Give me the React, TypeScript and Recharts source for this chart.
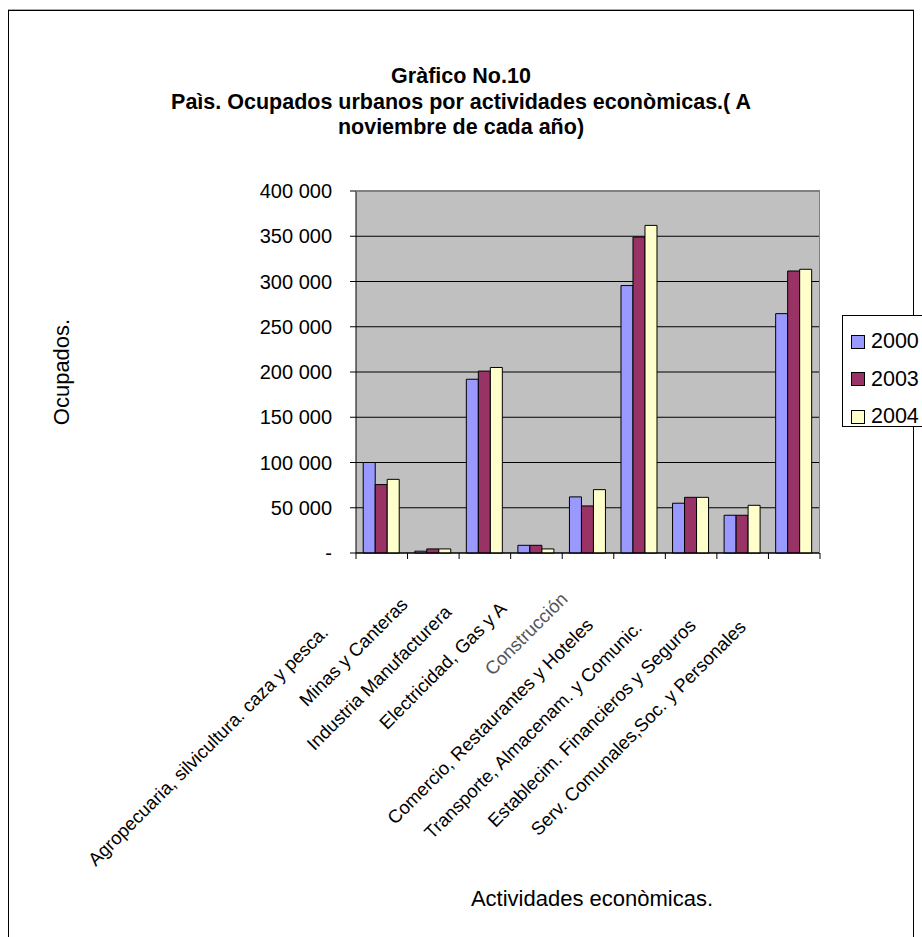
import React from "react";
import { BarChart, Bar, XAxis, YAxis, CartesianGrid, Legend } from "recharts";

const categories = [
  "Agropecuaria, silvicultura. caza y pesca.",
  "Minas y Canteras",
  "Industria Manufacturera",
  "Electricidad, Gas y A",
  "Construcción",
  "Comercio, Restaurantes y Hoteles",
  "Transporte, Almacenam. y Comunic.",
  "Establecim. Financieros y Seguros",
  "Serv. Comunales,Soc. y Personales",
];

const ocupados2000 = [100000, 2000, 192000, 8500, 62000, 295500, 55000, 41700, 264500];
const ocupados2003 = [75600, 4500, 201000, 8500, 52000, 349000, 61500, 41700, 311600];
const ocupados2004 = [81400, 4500, 205000, 4500, 70000, 362000, 61500, 52700, 313500];

const yTicks = [0, 50000, 100000, 150000, 200000, 250000, 300000, 350000, 400000];

const years = ["2000", "2003", "2004"];
const colors = ["#9999FF", "#993366", "#FFFFCC"];

const FONT = "'Liberation Sans', Arial, sans-serif";

const data = categories.map((name, i) => ({
  name,
  y2000: ocupados2000[i],
  y2003: ocupados2003[i],
  y2004: ocupados2004[i],
}));

const fmt = (v: number) =>
  v === 0 ? "-" : String(v).replace(/\B(?=(\d{3})+(?!\d))/g, " ");

let ctx: CanvasRenderingContext2D | null = null;
function measure(text: string, size: number) {
  if (!ctx) ctx = document.createElement("canvas").getContext("2d");
  if (!ctx) return text.length * size * 0.5;
  ctx.font = `${size}px 'Liberation Sans', Arial`;
  return ctx.measureText(text).width;
}

function CategoryTick(props: any) {
  const { x, y, payload, index } = props;
  const half = payload.offset > 0 ? payload.offset : 464 / 9 / 2;
  const size = 18.5;
  const len = measure(payload.value, size);
  const tx = x - 3 - 0.15 * len;
  const ty = y + 31 + 0.15 * len;
  const odd = payload.value === "Construcción";
  return (
    <g>
      <line x1={x - half} y1={y} x2={x - half} y2={y + 6} stroke="#000" />
      {index === categories.length - 1 && (
        <line x1={x + half} y1={y} x2={x + half} y2={y + 6} stroke="#000" />
      )}
      <text
        transform={`translate(${tx},${ty}) rotate(-45)`}
        textAnchor="end"
        fontSize={size}
        fontFamily={FONT}
        fill={odd ? "#555" : "#000"}
      >
        {payload.value}
      </text>
    </g>
  );
}

function LegendBox(props: any) {
  const { payload } = props;
  return (
    <div
      style={{
        border: "1px solid #000",
        background: "#fff",
        width: 100,
        height: 112,
        boxSizing: "border-box",
        paddingTop: 7,
        fontFamily: FONT,
        fontSize: 21.5,
      }}
    >
      {(payload || []).map((p: any) => (
        <div key={p.value} style={{ display: "flex", alignItems: "center", height: 37.5 }}>
          <span
            style={{
              display: "inline-block",
              width: 12,
              height: 12,
              marginLeft: 8,
              marginRight: 6,
              border: "1px solid #000",
              background: p.color,
            }}
          />
          <span>{p.value}</span>
        </div>
      ))}
    </div>
  );
}

export default function App() {
  return (
    <div
      style={{
        position: "fixed",
        left: 0,
        top: 0,
        width: 922,
        height: 937,
        background: "#fff",
        overflow: "hidden",
        fontFamily: FONT,
      }}
    >
      <div
        style={{
          position: "absolute",
          left: 8,
          top: 10,
          width: 904,
          height: 1000,
          border: "1px solid #000",
          boxShadow: "0 -1px 0 #aaa",
        }}
      />
      <div
        style={{
          position: "absolute",
          left: 0,
          top: 64,
          width: 922,
          textAlign: "center",
          fontWeight: "bold",
          fontSize: 21.5,
          lineHeight: "25.5px",
        }}
      >
        <div>Gràfico No.10</div>
        <div>Paìs. Ocupados urbanos por actividades econòmicas.( A</div>
        <div>noviembre de cada año)</div>
      </div>
      <div
        style={{
          position: "absolute",
          left: 62,
          top: 372,
          fontSize: 22,
          whiteSpace: "nowrap",
          transform: "translate(-50%, -50%) rotate(-90deg)",
        }}
      >
        Ocupados.
      </div>
      <div
        style={{
          position: "absolute",
          left: 592,
          top: 899,
          fontSize: 22,
          whiteSpace: "nowrap",
          transform: "translate(-50%, -50%)",
        }}
      >
        Actividades econòmicas.
      </div>
      <BarChart
        width={922}
        height={937}
        data={data}
        margin={{ top: 191, right: 102, bottom: 354, left: 266 }}
        barCategoryGap="14%"
        barGap={0}
        style={{ position: "absolute", left: 0, top: 0 }}
      >
        <CartesianGrid vertical={false} stroke="#000" fill="#C0C0C0" fillOpacity={1} />
        <XAxis
          dataKey="name"
          interval={0}
          height={30}
          tickLine={false}
          tickSize={0}
          tickMargin={0}
          axisLine={{ stroke: "#000" }}
          tick={<CategoryTick />}
        />
        <YAxis
          width={90}
          domain={[0, 400000]}
          ticks={yTicks}
          interval={0}
          tickFormatter={fmt}
          tickSize={6}
          tickMargin={18}
          axisLine={{ stroke: "#000" }}
          tickLine={{ stroke: "#000" }}
          tick={{ fill: "#000", fontSize: 20, fontFamily: FONT }}
        />
        <Legend
          layout="vertical"
          align="center"
          verticalAlign="middle"
          content={<LegendBox />}
          wrapperStyle={{ position: "absolute", left: 842, top: 315, width: 100, height: 112 }}
        />
        <Bar dataKey="y2000" name={years[0]} fill={colors[0]} stroke="#000" isAnimationActive={false} />
        <Bar dataKey="y2003" name={years[1]} fill={colors[1]} stroke="#000" isAnimationActive={false} />
        <Bar dataKey="y2004" name={years[2]} fill={colors[2]} stroke="#000" isAnimationActive={false} />
      </BarChart>
      <div
        style={{
          position: "absolute",
          left: 356,
          top: 191,
          width: 464,
          height: 362,
          boxSizing: "border-box",
          borderTop: "1px solid #808080",
          borderRight: "1px solid #808080",
          pointerEvents: "none",
        }}
      />
    </div>
  );
}
